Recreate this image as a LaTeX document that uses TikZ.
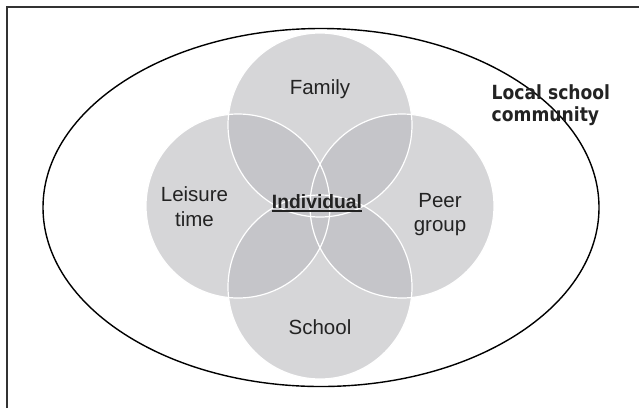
\documentclass[tikz,border=0pt]{standalone}
\usepackage{fontspec}
\setmainfont{Liberation Sans}
\newfontfamily\commfont[FakeStretch=0.88]{DejaVu Sans}
\definecolor{ringgray}{RGB}{214,214,216}
\definecolor{lensgray}{RGB}{197,197,201}
\definecolor{inkgray}{RGB}{35,35,35}
\tikzset{
  label text/.style={font=\fontsize{20.5}{24.5}\selectfont, text=inkgray, inner sep=0pt, align=center},
  head text/.style={font=\bfseries\fontsize{19.3}{23}\selectfont, text=inkgray, inner sep=0pt},
}
\begin{document}
\begin{tikzpicture}[x=1pt,y=-1pt]
\useasboundingbox (0,0) rectangle (639,408);
% frame
\draw[line width=2, black!80] (6.5,408) -- (6.5,6.5) -- (639,6.5);
% community
\draw[line width=1.4] (321,207.5) ellipse [x radius=278, y radius=179];
% circles
\coordinate (fam) at (320,125);
\coordinate (lei) at (238,206);
\coordinate (peer) at (402,206);
\coordinate (sch) at (320,287);
\foreach \c in {fam,lei,peer,sch}
  \fill[ringgray] (\c) circle[radius=92];
\foreach \a/\b in {fam/lei,fam/peer,sch/lei,sch/peer,fam/sch,lei/peer} {
  \begin{scope}
    \clip (\a) circle[radius=92];
    \fill[lensgray] (\b) circle[radius=92];
  \end{scope}
}
\foreach \c in {fam,lei,peer,sch}
  \draw[white, line width=1.2] (\c) circle[radius=92];
% labels
\node[label text, anchor=base] (famtxt) at (320,94) {Family};
\node[label text, anchor=base] (schtxt) at (320,334) {School};
\node[label text, anchor=base] (leitxt) at (194.5,226) {Leisure\\time};
\node[label text, anchor=base] (peertxt) at (440,231.5) {Peer\\group};
\node[head text, anchor=base] (indiv) at (317,208.5) {Individual};
\draw[line width=2, inkgray] ([yshift=-2.5]indiv.base west) -- ([yshift=-2.5]indiv.base east);
\node[font=\commfont\bfseries\fontsize{19.5}{22}\selectfont, text=inkgray, align=left, anchor=base west, inner sep=0pt] (commtxt) at (491.5,121.7) {Local school\\community};
\end{tikzpicture}
\end{document}
